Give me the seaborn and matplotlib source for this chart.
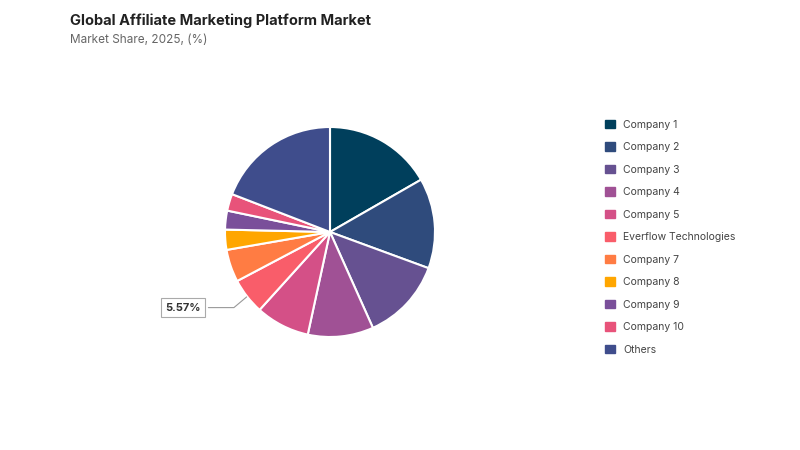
import matplotlib
matplotlib.use("Agg")
import matplotlib.pyplot as plt
import seaborn as sns
import numpy as np

sns.set_theme(style="white")
plt.rcParams['font.family'] = ['Inter', 'DejaVu Sans']

labels = ["Company 1", "Company 2", "Company 3", "Company 4", "Company 5",
          "Everflow Technologies", "Company 7", "Company 8", "Company 9", "Company 10", "Others"]
values = [16.7, 13.9, 12.7, 10.1, 8.3, 5.57, 5.0, 3.1, 2.9, 2.6, 19.13]
colors = ["#003f5c", "#2f4b7c", "#665191", "#a05195", "#d45087", "#f95d6a",
          "#ff7c43", "#ffa600", "#7a4f9a", "#e8537a", "#3f4d8c"]

fig = plt.figure(figsize=(8, 4.5), dpi=100)
ax = fig.add_axes([225 / 800, 113 / 450, 210 / 800, 210 / 450])
wedges, _ = ax.pie(values, colors=colors, startangle=90, counterclock=False,
                   wedgeprops=dict(edgecolor="white", linewidth=1.5))
ax.set_xlim(-1, 1)
ax.set_ylim(-1, 1)
ax.set_aspect("equal")

idx = 5
w = wedges[idx]
ang = np.deg2rad((w.theta1 + w.theta2) / 2)
x, y = np.cos(ang), np.sin(ang)
ax.annotate(f"{values[idx]:.2f}%", xy=(0.98 * x, 0.98 * y), xytext=(-1.4, -0.72),
            ha="center", va="center", fontsize=8, fontweight="bold", color="#333333",
            bbox=dict(boxstyle="square,pad=0.4", fc="white", ec="#aaaaaa", lw=0.8),
            arrowprops=dict(arrowstyle="-", color="#999999", lw=0.8,
                            connectionstyle="angle,angleA=0,angleB=40"),
            annotation_clip=False)

handles = [plt.Rectangle((0, 0), 1, 1, color=c) for c in colors]
fig.legend(handles, labels, loc="upper left", bbox_to_anchor=(0.745, 0.755),
           frameon=False, fontsize=7.5, handlelength=0.9, handleheight=0.9,
           labelspacing=1.2, labelcolor="#444444")

fig.text(0.0875, 0.945, "Global Affiliate Marketing Platform Market", fontsize=10.5,
         fontweight="bold", color="#222222")
fig.text(0.0875, 0.905, "Market Share, 2025, (%)", fontsize=8.5, color="#666666")

fig.savefig("out.png", dpi=100)
